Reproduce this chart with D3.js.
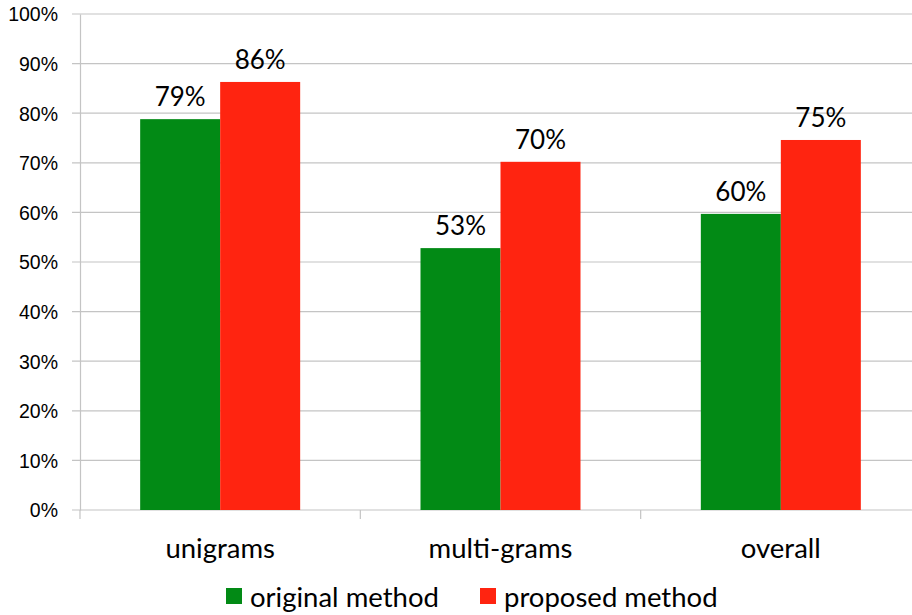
<!DOCTYPE html>
<html>
<head>
<meta charset="utf-8">
<script src="https://cdn.jsdelivr.net/npm/d3@7"></script>
<style>
  html, body { margin: 0; padding: 0; background: #fff; }
  svg { display: block; font-family: Lato, "Open Sans", sans-serif; }
</style>
</head>
<body>
<svg id="chart" width="912" height="615"></svg>
<script>
// Accuracy by n-gram type, original vs. proposed method
const categories = ["unigrams", "multi-grams", "overall"];
const seriesNames = ["original method", "proposed method"];
const originalValues = [0.788, 0.528, 0.597];
const proposedValues = [0.863, 0.702, 0.746];
const yTicks = [0, 0.1, 0.2, 0.3, 0.4, 0.5, 0.6, 0.7, 0.8, 0.9, 1.0];

const colors = ["#028a15", "#ff2410"];
const seriesValues = [originalValues, proposedValues];

const svg = d3.select("#chart");
const plotLeft = 80, plotRight = 921, plotTop = 14, plotBottom = 510;

const x = d3.scaleBand().domain(categories).range([plotLeft, plotRight]);
const xs = d3.scaleBand().domain(seriesNames).range([0, 160]);
const y = d3.scaleLinear().domain([0, 1]).range([plotBottom, plotTop]);
const pct = d3.format(".0%");

// Horizontal gridlines
svg.append("g")
  .selectAll("line")
  .data(yTicks)
  .join("line")
  .attr("x1", plotLeft - 8).attr("x2", 912)
  .attr("y1", d => y(d)).attr("y2", d => y(d))
  .attr("stroke", "#c4c4c4").attr("stroke-width", 1.2);

// Y axis
const yAxis = svg.append("g")
  .attr("transform", `translate(${plotLeft},0)`)
  .call(d3.axisLeft(y).tickValues(yTicks).tickFormat(pct).tickSize(0).tickPadding(22));
yAxis.select(".domain").attr("stroke", "#c4c4c4").attr("stroke-width", 1.2);
yAxis.selectAll("text").attr("font-size", 19.5).attr("fill", "#000").attr("dy", "0.35em");

// X axis tick marks at the band boundaries
const boundaries = categories.map(c => x(c)).concat([plotRight]);
svg.append("g")
  .selectAll("line")
  .data(boundaries)
  .join("line")
  .attr("x1", d => d).attr("x2", d => d)
  .attr("y1", plotBottom).attr("y2", plotBottom + 9)
  .attr("stroke", "#c4c4c4").attr("stroke-width", 1.2);

// Category labels
svg.append("g")
  .selectAll("text")
  .data(categories)
  .join("text")
  .attr("x", d => x(d) + x.bandwidth() / 2)
  .attr("y", 558)
  .attr("text-anchor", "middle")
  .attr("font-size", 27.5)
  .attr("fill", "#000")
  .text(d => d);

// Bars
const groups = svg.append("g")
  .selectAll("g")
  .data(categories)
  .join("g")
  .attr("transform", d => `translate(${x(d) + x.bandwidth() / 2 - 80},0)`);

const cells = (d, i) => seriesNames.map((s, j) => ({ s, j, v: seriesValues[j][i] }));

groups.selectAll("rect")
  .data(cells)
  .join("rect")
  .attr("x", d => xs(d.s))
  .attr("width", xs.bandwidth())
  .attr("y", d => y(d.v))
  .attr("height", d => plotBottom - y(d.v))
  .attr("fill", d => colors[d.j]);

// Value labels
groups.selectAll("text")
  .data(cells)
  .join("text")
  .attr("x", d => xs(d.s) + xs.bandwidth() / 2)
  .attr("y", d => y(d.v) - 13)
  .attr("text-anchor", "middle")
  .attr("font-size", 26)
  .attr("fill", "#000")
  .text(d => pct(d.v));

// Legend
const legendX = [226, 480];
const legend = svg.append("g")
  .selectAll("g")
  .data(seriesNames)
  .join("g")
  .attr("transform", (d, i) => `translate(${legendX[i]},0)`);
legend.append("rect")
  .attr("x", 0).attr("y", 588)
  .attr("width", 16).attr("height", 16)
  .attr("fill", (d, i) => colors[i]);
legend.append("text")
  .attr("x", 24).attr("y", 607)
  .attr("font-size", 27.5)
  .attr("fill", "#000")
  .text(d => d);
</script>
</body>
</html>
